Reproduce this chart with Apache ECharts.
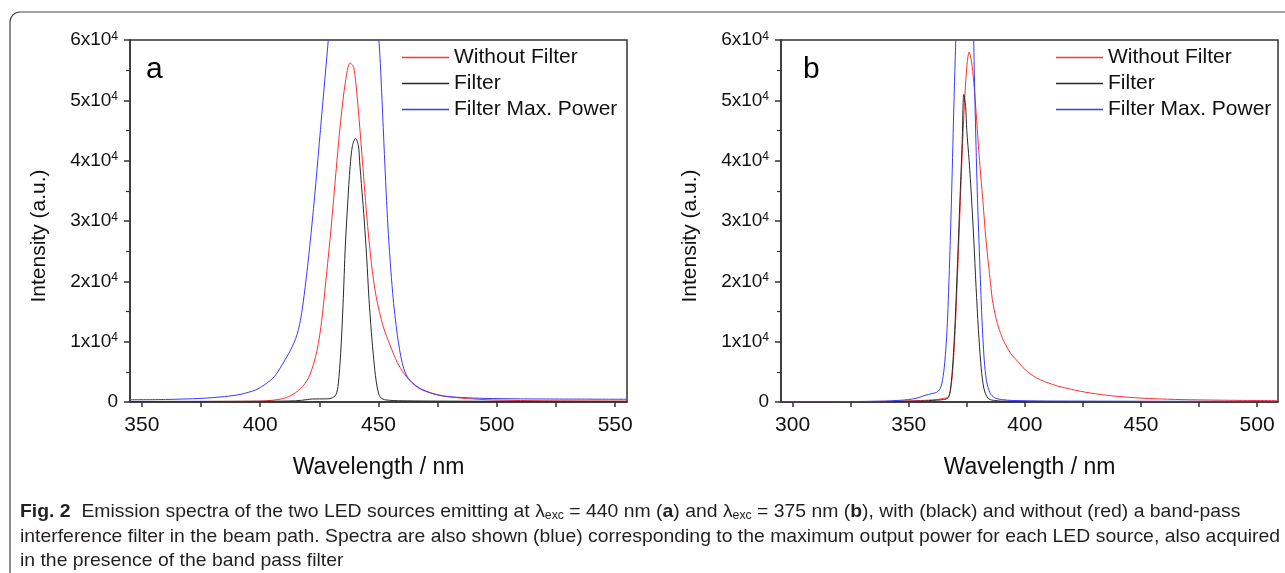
<!DOCTYPE html>
<html>
<head>
<meta charset="utf-8">
<script src="https://cdn.jsdelivr.net/npm/echarts@6/dist/echarts.min.js"></script>
<style>
html, body { margin: 0; padding: 0; background: #fff; }
#main { width: 1285px; height: 573px; }
</style>
</head>
<body>
<div id="main"></div>
<script>
// panel a : LED at 440 nm
var aRedX = [345, 360, 380, 400, 405, 410, 414, 418, 421, 424, 426, 428, 430, 432, 434, 436, 438, 439.5, 441, 443, 445, 447, 449, 452, 455, 458, 461, 464, 467, 470, 475, 480, 490, 500, 520, 555];
var aRedY = [60, 70, 90, 150, 280, 600, 1300, 2600, 4500, 8500, 13500, 21000, 29000, 38000, 46500, 53000, 56200, 55500, 50500, 41000, 31000, 23000, 17500, 12500, 9300, 6500, 4600, 3300, 2400, 1800, 1200, 850, 500, 320, 200, 150];

var aBlackX = [345, 400, 415, 420, 422, 428, 430, 432, 433, 434, 435, 436, 437, 438, 439, 440.3, 441.5, 442, 443, 444, 445, 446, 447, 448, 449, 450, 451, 453, 460, 500, 555];
var aBlackY = [100, 120, 200, 400, 500, 520, 600, 1200, 3000, 8000, 16000, 26000, 33000, 39000, 42500, 43700, 42500, 40000, 35000, 30000, 24000, 17000, 11500, 7000, 3500, 1500, 700, 350, 200, 120, 100];

var aBlueX = [345, 360, 375, 385, 392, 398, 402, 406, 409, 412, 415, 417, 419, 421, 423, 425, 427, 429, 432, 436, 440, 444, 447, 449, 450.5, 451.5, 452.5, 454, 456, 458, 460, 462, 465, 468, 472, 477, 485, 495, 510, 555];
var aBlueY = [380, 420, 600, 900, 1300, 2000, 2900, 4200, 6000, 8000, 10500, 13500, 19000, 26000, 34000, 43000, 52000, 61000, 75000, 88000, 92000, 88000, 76000, 66000, 58000, 50000, 41000, 29000, 18000, 11000, 6500, 4300, 2900, 2100, 1500, 1000, 750, 600, 520, 450];

// panel b : LED at 375 nm
var bRedX = [295, 330, 345, 355, 362, 365, 367, 368, 369, 370, 371, 372, 373, 374, 375, 376, 377, 378, 379, 380, 381, 382, 383, 384, 385, 386, 387.5, 389, 391, 394, 397, 400, 405, 412, 420, 428, 438, 450, 465, 485, 509];
var bRedY = [50, 80, 150, 250, 400, 600, 800, 2000, 5500, 12000, 21000, 31000, 41000, 49500, 55500, 58000, 56500, 53000, 48000, 42500, 37500, 33000, 28000, 24000, 20500, 17000, 14000, 12000, 10000, 8000, 6700, 5400, 4000, 2900, 2100, 1500, 1000, 650, 420, 300, 220];

var bBlackX = [295, 340, 355, 362, 365, 367, 368, 369, 370, 371, 372, 373, 373.7, 374.5, 375, 376, 377, 378, 379, 380, 381, 382, 383, 384.5, 387, 390, 420, 509];
var bBlackY = [50, 80, 150, 300, 400, 700, 2200, 6500, 13500, 23000, 33000, 43000, 51000, 49000, 45000, 40000, 34000, 27000, 19000, 12000, 6500, 3000, 1400, 500, 250, 150, 100, 80];

var bBlueX = [295, 320, 340, 345, 350, 354, 357, 360, 362, 363.5, 364.5, 365.5, 366.5, 367.5, 368.5, 369.5, 370.5, 372, 374, 376, 377.5, 378.5, 379.5, 380.5, 381.5, 382.5, 383.5, 385, 387, 390, 395, 410, 509];
var bBlueY = [50, 60, 150, 250, 400, 700, 1100, 1400, 1600, 2200, 3500, 6500, 12000, 22000, 35000, 50000, 63000, 80000, 90000, 85000, 68000, 50000, 35000, 24000, 14000, 7000, 3500, 1500, 700, 400, 250, 150, 100];

var xLabelsA = [350, 400, 450, 500, 550];
var xTicksA = [350, 375, 400, 425, 450, 475, 500, 525, 550];
var xLabelsB = [300, 350, 400, 450, 500];
var xTicksB = [300, 325, 350, 375, 400, 425, 450, 475, 500];

var seriesNames = ['Without Filter', 'Filter', 'Filter Max. Power'];
var seriesColors = ['#ff3030', '#2a2a2a', '#3a3aff'];

function zip(xs, ys) {
    return xs.map(function (x, i) { return [x, ys[i]]; });
}

var FONT = '"Liberation Sans", Arial, sans-serif';
var axisColor = '#333';

function makeX(idx, min, max, labels, ticks) {
    return {
        type: 'value', gridIndex: idx, min: min, max: max,
        axisLine: { onZero: false, lineStyle: { color: axisColor, width: 1.5 } },
        axisTick: { customValues: ticks, length: 5, lineStyle: { color: axisColor, width: 1.5 } },
        axisLabel: { customValues: labels, fontSize: 21, margin: 13, color: '#111', fontFamily: FONT },
        splitLine: { show: false },
        name: 'Wavelength / nm', nameLocation: 'middle', nameGap: 54,
        nameTextStyle: { fontSize: 23, color: '#111', fontFamily: FONT }
    };
}

function makeY(idx) {
    return {
        type: 'value', gridIndex: idx, min: 0, max: 60000, interval: 10000,
        axisLine: { show: true, onZero: false, lineStyle: { color: axisColor, width: 1.5 } },
        axisTick: { show: true, length: 6, lineStyle: { color: axisColor, width: 1.5 } },
        minorTick: { show: true, splitNumber: 2, length: 4, lineStyle: { color: axisColor, width: 1.2 } },
        axisLabel: {
            margin: 12, color: '#111', fontFamily: FONT,
            formatter: function (v) {
                return v === 0 ? '{m|0}' : '{m|' + (v / 10000) + 'x10}{s|4}';
            },
            rich: {
                m: { fontSize: 19, fontFamily: FONT, color: '#111' },
                s: { fontSize: 12, fontFamily: FONT, color: '#111', verticalAlign: 'top', padding: [0, 0, 6, 0] }
            }
        },
        splitLine: { show: false },
        name: 'Intensity (a.u.)', nameLocation: 'middle', nameGap: 80, nameRotate: 90,
        nameTextStyle: { fontSize: 21, color: '#111', fontFamily: FONT, padding: [0, 30, 0, 0] }
    };
}

function makeSeries(name, color, idx, xs, ys) {
    return {
        name: name, type: 'line', xAxisIndex: idx, yAxisIndex: idx,
        data: zip(xs, ys), symbol: 'none', smooth: 0.3,
        lineStyle: { color: color, width: 1 }, itemStyle: { color: color },
        clip: true
    };
}

function makeLegend(left) {
    return {
        data: seriesNames, orient: 'vertical', left: left, top: 47, padding: 0,
        icon: 'rect', itemWidth: 47, itemHeight: 1.3, itemGap: 5,
        textStyle: { fontSize: 21, color: '#111', fontFamily: FONT, lineHeight: 21 }
    };
}

// caption is a condensed face in the reference: squeeze Liberation Sans to the same line length
var capFont = '19px "Liberation Sans", Arial, sans-serif';
var line2 = 'interference filter in the beam path. Spectra are also shown (blue) corresponding to the maximum output power for each LED source, also acquired';
var ctx = document.createElement('canvas').getContext('2d');
ctx.font = capFont;
var capScale = 1260 / ctx.measureText(line2).width;

var capRich = {
    b: { fontWeight: 'bold', fontSize: 19, fontFamily: FONT, color: '#231f20' },
    n: { fontSize: 19, fontFamily: FONT, color: '#231f20' },
    sub: { fontSize: 12, fontFamily: FONT, color: '#231f20', verticalAlign: 'bottom', padding: [8, 0, 0, 0] }
};

function capText(y, text) {
    return {
        type: 'text', x: 20, y: y, scaleX: capScale,
        style: { text: text, rich: capRich, font: capFont, fill: '#231f20', textVerticalAlign: 'middle' }
    };
}

var option = {
    animation: false,
    backgroundColor: '#fff',
    textStyle: { fontFamily: FONT },
    grid: [
        { left: 130, top: 40, width: 497, height: 362, show: true, borderColor: axisColor, borderWidth: 1.5 },
        { left: 781, top: 40, width: 497, height: 362, show: true, borderColor: axisColor, borderWidth: 1.5 }
    ],
    xAxis: [makeX(0, 345, 555, xLabelsA, xTicksA), makeX(1, 295, 509, xLabelsB, xTicksB)],
    yAxis: [makeY(0), makeY(1)],
    legend: [makeLegend(402), makeLegend(1056)],
    series: [
        makeSeries(seriesNames[0], seriesColors[0], 0, aRedX, aRedY),
        makeSeries(seriesNames[1], seriesColors[1], 0, aBlackX, aBlackY),
        makeSeries(seriesNames[2], seriesColors[2], 0, aBlueX, aBlueY),
        makeSeries(seriesNames[0], seriesColors[0], 1, bRedX, bRedY),
        makeSeries(seriesNames[1], seriesColors[1], 1, bBlackX, bBlackY),
        makeSeries(seriesNames[2], seriesColors[2], 1, bBlueX, bBlueY)
    ],
    graphic: [
        {
            type: 'rect', shape: { x: 10, y: 12, width: 1320, height: 620, r: 10 },
            style: { fill: 'none', stroke: '#444', lineWidth: 1.2 }, silent: true, z: -1
        },
        { type: 'text', x: 146, y: 70, style: { text: 'a', font: '30px ' + FONT, fill: '#000', textVerticalAlign: 'middle' } },
        { type: 'text', x: 803, y: 70, style: { text: 'b', font: '30px ' + FONT, fill: '#000', textVerticalAlign: 'middle' } },
        capText(512, '{b|Fig. 2}{n|  Emission spectra of the two LED sources emitting at λ}{sub|exc}{n| = 440 nm (}{b|a}{n|) and λ}{sub|exc}{n| = 375 nm (}{b|b}{n|), with (black) and without (red) a band-pass}'),
        capText(537, '{n|' + line2 + '}'),
        capText(561, '{n|in the presence of the band pass filter}')
    ]
};

var myChart = echarts.init(document.getElementById('main'));
myChart.setOption(option);
</script>
</body>
</html>
